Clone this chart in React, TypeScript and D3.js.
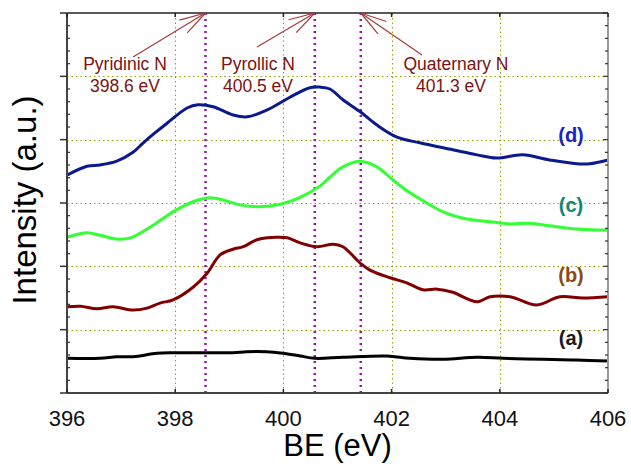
import React from "react";
import * as d3 from "d3";

const W = 631;
const H = 464;
const M = { left: 67, top: 13, right: 23, bottom: 71 };

const xTicks = [396, 398, 400, 402, 404, 406];
const yMajor = [0, 1, 2, 3, 4, 5, 6];

// series (a)-(d): [BE eV, intensity a.u.]
const seriesA: [number, number][] = [
  [396.0, 0.548], [396.61, 0.548], [396.92, 0.573], [397.22, 0.573], [397.66, 0.627],
  [397.96, 0.636], [398.46, 0.636], [399.07, 0.636], [399.32, 0.652], [399.69, 0.652],
  [399.99, 0.627], [400.31, 0.584], [400.58, 0.548], [401.1, 0.564], [401.91, 0.584],
  [402.34, 0.548], [402.95, 0.532], [403.58, 0.564], [404.06, 0.548], [404.8, 0.532],
  [405.42, 0.521], [406.0, 0.505],
];
const seriesB: [number, number][] = [
  [396.0, 1.36], [396.25, 1.37], [396.55, 1.33], [396.85, 1.36], [397.22, 1.31],
  [397.48, 1.34], [397.72, 1.42], [397.96, 1.47], [398.33, 1.67], [398.59, 1.89],
  [398.83, 2.18], [399.07, 2.27], [399.26, 2.31], [399.51, 2.42], [399.88, 2.46],
  [400.07, 2.45], [400.31, 2.37], [400.62, 2.31], [400.92, 2.35], [401.1, 2.31],
  [401.42, 2.05], [401.6, 1.94], [401.97, 1.82], [402.28, 1.74], [402.58, 1.63],
  [402.84, 1.64], [403.13, 1.59], [403.58, 1.44], [403.82, 1.52], [404.19, 1.52],
  [404.68, 1.39], [405.11, 1.52], [405.53, 1.5], [406.0, 1.52],
];
const seriesC: [number, number][] = [
  [396.0, 2.46], [396.37, 2.53], [396.61, 2.49], [396.92, 2.43], [397.17, 2.45],
  [397.54, 2.62], [397.96, 2.86], [398.33, 3.02], [398.59, 3.08], [398.83, 3.06],
  [399.2, 2.97], [399.57, 2.94], [399.94, 2.98], [400.31, 3.09], [400.68, 3.27],
  [400.86, 3.41], [401.1, 3.57], [401.42, 3.66], [401.73, 3.57], [402.03, 3.36],
  [402.34, 3.16], [402.65, 3.0], [402.95, 2.86], [403.32, 2.76], [403.87, 2.7],
  [404.19, 2.67], [404.56, 2.68], [404.92, 2.64], [405.42, 2.59], [406.0, 2.57],
];
const seriesD: [number, number][] = [
  [396.0, 3.44], [396.37, 3.58], [396.61, 3.6], [396.92, 3.66], [397.22, 3.8],
  [397.41, 3.95], [397.63, 4.11], [397.85, 4.26], [398.22, 4.5], [398.42, 4.55],
  [398.7, 4.52], [399.07, 4.39], [399.33, 4.36], [399.7, 4.47], [400.12, 4.67],
  [400.49, 4.82], [400.68, 4.83], [400.86, 4.8], [401.1, 4.63], [401.42, 4.44],
  [401.73, 4.23], [402.1, 4.04], [402.52, 3.95], [403.13, 3.84], [403.58, 3.76],
  [403.94, 3.71], [404.42, 3.76], [404.92, 3.68], [405.42, 3.62], [405.66, 3.62],
  [406.0, 3.68],
];

const seriesNames = ["(a)", "(b)", "(c)", "(d)"];
const seriesColors = ["#000000", "#800000", "#33ff33", "#0a1a8c"];
const labelColors = ["#1a1a1a", "#8b4a14", "#12866e", "#1a22c8"];
const labelY = [0.76, 1.75, 2.86, 3.96];

const peakPositions = [398.56, 400.58, 401.43];
const peakNames = ["Pyridinic N", "Pyrollic N", "Quaternary N"];
const peakValues = ["398.6 eV", "400.5 eV", "401.3 eV"];

export default function App() {
  const iw = W - M.left - M.right;
  const ih = H - M.top - M.bottom;
  const x = d3.scaleLinear().domain([396, 406]).range([M.left, M.left + iw]);
  const y = d3.scaleLinear().domain([0, 6]).range([M.top + ih, M.top]);
  const line = d3
    .line<[number, number]>()
    .x((d) => x(d[0]))
    .y((d) => y(d[1]))
    .curve(d3.curveCatmullRom.alpha(0.5));
  const series = [seriesA, seriesB, seriesC, seriesD];
  const minor: number[] = [];
  for (let i = 0; i < 6; i++) for (let j = 1; j < 5; j++) minor.push(i + j / 5);

  const font = "Arial, 'Liberation Sans', sans-serif";
  const arrowColor = "#a83a3a";
  const textColor = "#7a1212";

  const textX = [125, 258, 456];
  const arrows: { tail: [number, number] }[] = [
    { tail: [133, 57] },
    { tail: [257, 47] },
    { tail: [422, 55] },
  ];

  return (
    <svg width={W} height={H} style={{ display: "block", position: "absolute", left: 0, top: 0 }} fontFamily={font}>
      <rect width={W} height={H} fill="#fff" />
      {/* grid */}
      {xTicks.slice(1, -1).map((t) => (
        <line key={"gx" + t} x1={Math.round(x(t)) + 0.5} x2={Math.round(x(t)) + 0.5} y1={y(0)} y2={y(6)} stroke="#9c9c00" strokeWidth={1} strokeDasharray="1.5,3" />
      ))}
      {yMajor.slice(1, -1).map((t) => (
        <line key={"gy" + t} x1={x(396)} x2={x(406)} y1={Math.round(y(t)) + 0.5} y2={Math.round(y(t)) + 0.5} stroke="#9c9c00" strokeWidth={1} strokeDasharray="1.5,3" />
      ))}
      {/* peak lines */}
      {peakPositions.map((p) => (
        <line key={"p" + p} x1={x(p)} x2={x(p)} y1={y(0)} y2={y(6)} stroke="#9a16a8" strokeWidth={2.5} strokeDasharray="2,4" />
      ))}
      {/* curves */}
      {series.map((s, i) => (
        <path key={"s" + i} d={line(s) || ""} fill="none" stroke={seriesColors[i]} strokeWidth={3} />
      ))}
      {/* frame */}
      <line x1={x(396)} x2={x(406)} y1={y(6)} y2={y(6)} stroke="#222" strokeWidth={1.5} />
      <line x1={x(396)} x2={x(406)} y1={y(0)} y2={y(0)} stroke="#444" strokeWidth={2} />
      <line x1={x(396)} x2={x(396)} y1={y(0)} y2={y(6)} stroke="#444" strokeWidth={2} />
      <line x1={x(406)} x2={x(406)} y1={y(0)} y2={y(6)} stroke="#999" strokeWidth={2} />
      {/* y ticks */}
      {yMajor.map((t) => (
        <line key={"yt" + t} x1={x(396) - 7} x2={x(396)} y1={y(t)} y2={y(t)} stroke="#333" strokeWidth={1.5} />
      ))}
      {minor.map((t) => (
        <g key={"ym" + t}>
          <line x1={x(396)} x2={x(396) + 3} y1={y(t)} y2={y(t)} stroke="#333" strokeWidth={1.2} />
          <line x1={x(406) - 3} x2={x(406)} y1={y(t)} y2={y(t)} stroke="#333" strokeWidth={1.2} />
        </g>
      ))}
      {yMajor.map((t) => (
        <line key={"yr" + t} x1={x(406) - 5} x2={x(406)} y1={y(t)} y2={y(t)} stroke="#333" strokeWidth={1.2} />
      ))}
      {/* x ticks */}
      {xTicks.map((t) => (
        <g key={"xt" + t}>
          <line x1={x(t)} x2={x(t)} y1={y(0)} y2={y(0) - 4} stroke="#222" strokeWidth={1.5} />
          <line x1={x(t)} x2={x(t)} y1={y(6)} y2={y(6) + 4} stroke="#222" strokeWidth={1.5} />
          <text x={x(t)} y={426} textAnchor="middle" fontSize={22} fill="#111">
            {t}
          </text>
        </g>
      ))}
      {/* axis titles */}
      <text x={(x(396) + x(406)) / 2} y={456} textAnchor="middle" fontSize={31} fill="#000">
        BE (eV)
      </text>
      <text transform={`translate(36, ${(y(0) + y(6)) / 2 - 3}) rotate(-90)`} textAnchor="middle" fontSize={33} fill="#000">
        Intensity (a.u.)
      </text>
      {/* annotations */}
      {peakPositions.map((p, i) => {
        const tip: [number, number] = [x(p), y(6)];
        const tail = arrows[i].tail;
        const ang = Math.atan2(tail[1] - tip[1], tail[0] - tip[0]);
        const heads = [-0.28, 0.28].map((da) => [tip[0] + 27 * Math.cos(ang + da), tip[1] + 27 * Math.sin(ang + da)]);
        return (
          <g key={"a" + i}>
            <line x1={tail[0]} y1={tail[1]} x2={tip[0]} y2={tip[1]} stroke={arrowColor} strokeWidth={1.2} />
            {heads.map((h, k) => (
              <line key={k} x1={tip[0]} y1={tip[1]} x2={h[0]} y2={h[1]} stroke={arrowColor} strokeWidth={1.2} />
            ))}
            <text x={textX[i]} y={70} textAnchor="middle" fontSize={17.5} fill={textColor}>
              {peakNames[i]}
            </text>
            <text x={textX[i] + (i === 2 ? -5 : 0)} y={92} textAnchor="middle" fontSize={17.5} fill={textColor}>
              {peakValues[i]}
            </text>
          </g>
        );
      })}
      {/* series labels */}
      {seriesNames.map((n, i) => (
        <text key={n} x={571} y={y(labelY[i])} textAnchor="middle" fontSize={20} fontWeight="bold" fill={labelColors[i]}>
          {n}
        </text>
      ))}
    </svg>
  );
}
